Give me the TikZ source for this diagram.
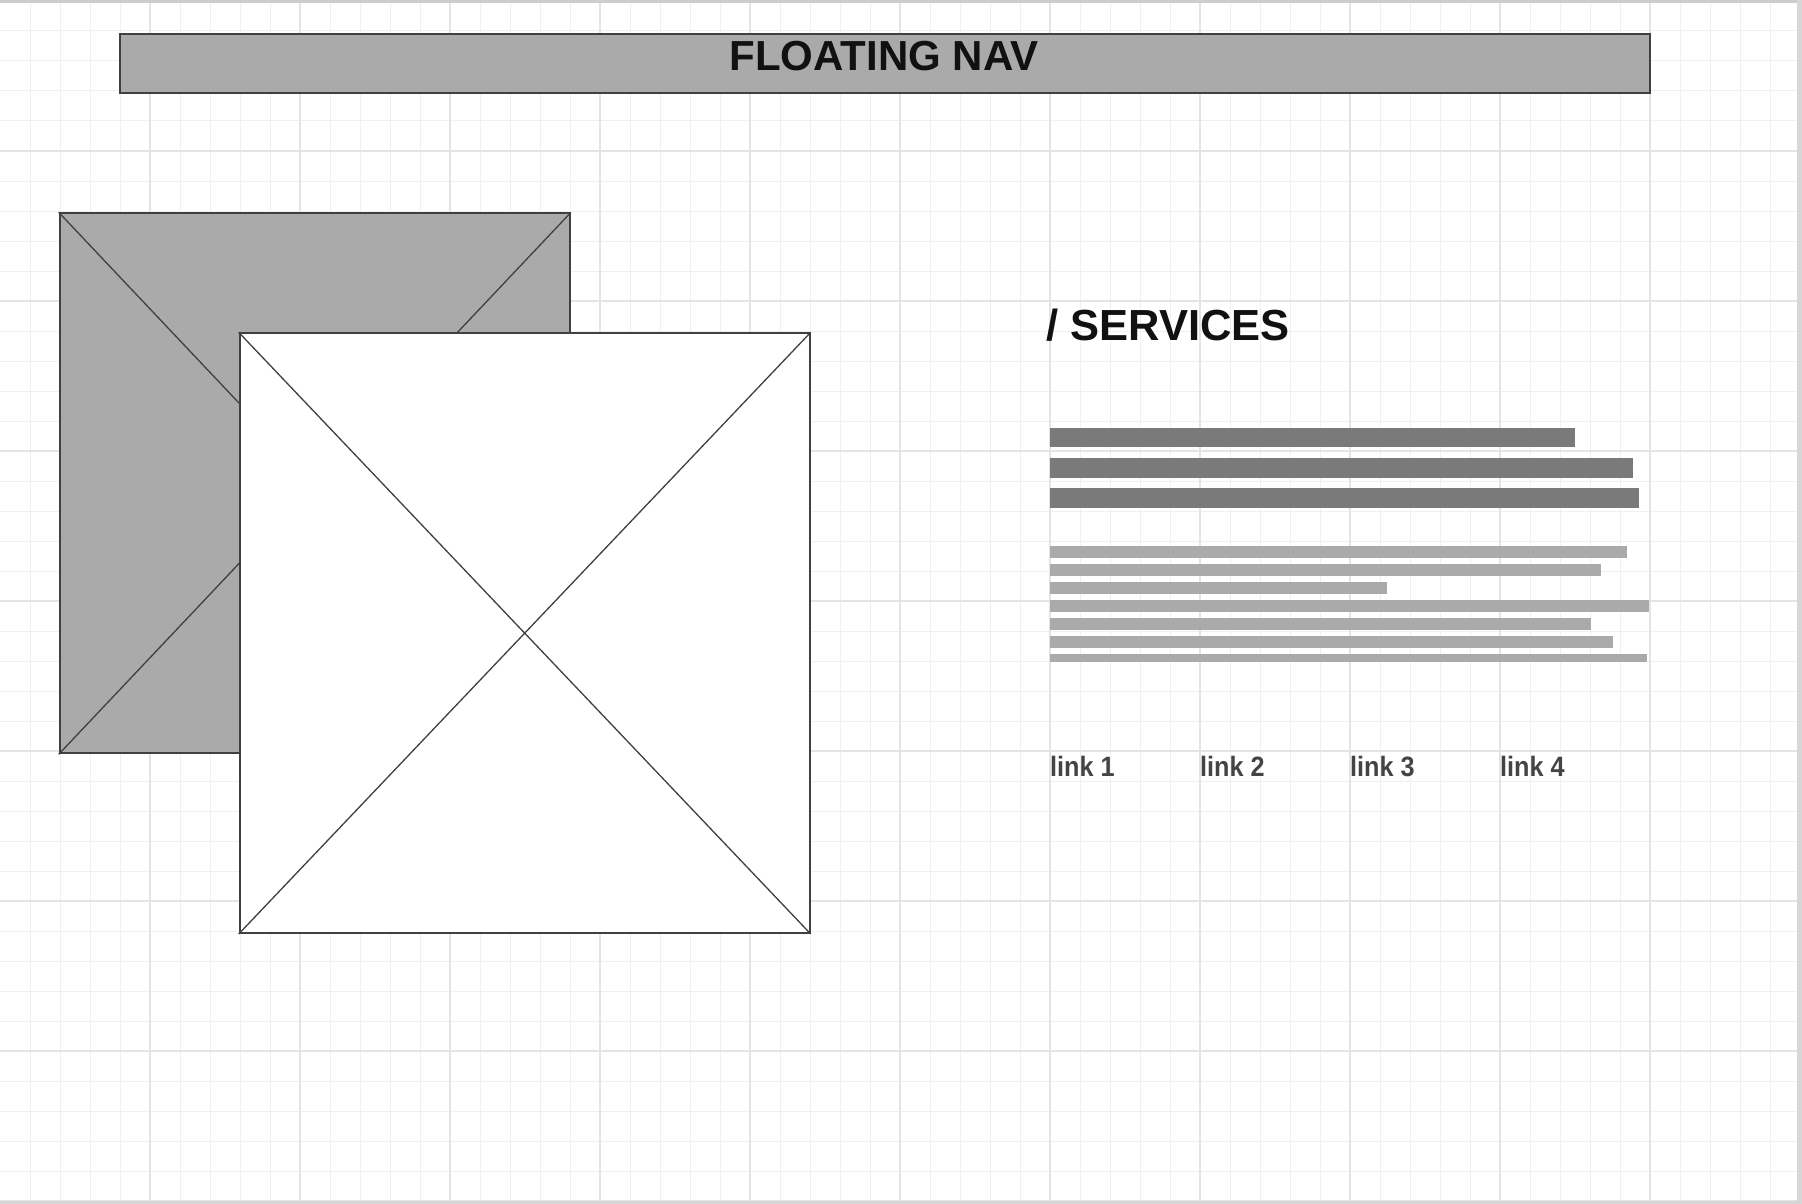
\documentclass[tikz,border=0pt]{standalone}
\usepackage{fontspec}
\setmainfont{Liberation Sans}
\newfontfamily\headfont{Liberation Sans}
\newfontfamily\linkfont[FakeStretch=0.9]{Liberation Sans}
\usetikzlibrary{positioning}
\definecolor{gridminor}{RGB}{240, 240, 240}
\definecolor{gridmajor}{RGB}{228, 228, 228}
\definecolor{framegray}{RGB}{205, 205, 205}
\definecolor{boxfill}{RGB}{170, 170, 170}
\definecolor{edgegray}{RGB}{64, 64, 64}
\definecolor{headbar}{RGB}{122, 122, 122}
\definecolor{textbar}{RGB}{170, 170, 170}
\definecolor{inktext}{RGB}{17, 17, 17}
\definecolor{linktext}{RGB}{68, 68, 68}

\begin{document}
\begin{tikzpicture}[
    x=1pt, y=-1pt,
    minorline/.style={draw=gridminor, line width=1pt},
    majorline/.style={draw=gridmajor, line width=1.4pt},
    panel/.style={rectangle, draw=edgegray, line width=2pt, inner sep=0pt},
    cross/.style={draw=edgegray, line width=1.3pt},
    bar/.style={rectangle, inner sep=0pt, anchor=north west},
    headline/.style={bar, fill=headbar, minimum height=19.7pt},
    bodyline/.style={bar, fill=textbar, minimum height=11.7pt},
    linklabel/.style={anchor=base west, inner sep=0pt, font=\linkfont\bfseries\fontsize{28}{30}\selectfont, text=linktext},
]
    % Canvas and grid
    \fill[white] (0,0) rectangle (1802,1204);
    \useasboundingbox (0,0) rectangle (1802,1204);
    \foreach \k in {1,...,59} {
        \draw[minorline] (\k*30,0) -- (\k*30,1204);
    }
    \foreach \k in {0,...,39} {
        \draw[minorline] (0,\k*30+1) -- (1802,\k*30+1);
    }
    \foreach \k in {1,...,11} {
        \draw[majorline] (\k*150,0) -- (\k*150,1204);
    }
    \foreach \k in {1,...,8} {
        \draw[majorline] (0,\k*150+1) -- (1802,\k*150+1);
    }
    % Window frame
    \fill[framegray] (0,0) rectangle (1802,3);
    \fill[framegray!80] (1797,0) rectangle (1802,1204);
    \fill[framegray!80] (0,1201) rectangle (1802,1204);

    % Floating nav
    \node[panel, fill=boxfill, minimum width=1530pt, minimum height=59.6pt, anchor=north west] (nav) at (119,32.7) {};
    \node[anchor=base, inner sep=0pt, font=\headfont\bfseries\fontsize{42}{44}\selectfont, text=inktext] (navlabel) at (884,70.7) {FLOATING NAV};

    % Image placeholders
    \node[panel, fill=boxfill, minimum width=510.3pt, minimum height=540pt, anchor=north west] (backimg) at (58.7,212.3) {};
    \draw[cross] (backimg.north west) -- (backimg.south east);
    \draw[cross] (backimg.north east) -- (backimg.south west);
    \node[panel, fill=white, minimum width=570pt, minimum height=599.7pt, anchor=north west] (frontimg) at (238.7,332.3) {};
    \draw[cross] (frontimg.north west) -- (frontimg.south east);
    \draw[cross] (frontimg.north east) -- (frontimg.south west);

    % Services heading
    \node[anchor=base west, inner sep=0pt, font=\headfont\bfseries\fontsize{43.5}{46}\selectfont, text=inktext] (services) at (1046,340) {/ SERVICES};

    % Heading lines
    \foreach \i/\y/\w in {1/427.5/524.5, 2/458/582.5, 3/488/588.3} {
        \node[headline, minimum width=\w pt] (head\i) at (1050,\y) {};
    }
    % Body lines
    \foreach \i/\y/\w in {1/546/576.3, 2/564/550.4, 3/582/336.5, 4/600/598.6, 5/618/540.5, 6/636/562.4} {
        \node[bodyline, minimum width=\w pt] (body\i) at (1050,\y) {};
    }
    \node[bar, fill=textbar, minimum width=596.3pt, minimum height=8pt] (body7) at (1050,654) {};

    % Links
    \foreach \i/\x in {1/1050, 2/1200, 3/1350, 4/1500} {
        \node[linklabel] (link\i) at (\x,776.7) {link \i};
    }
\end{tikzpicture}
\end{document}
